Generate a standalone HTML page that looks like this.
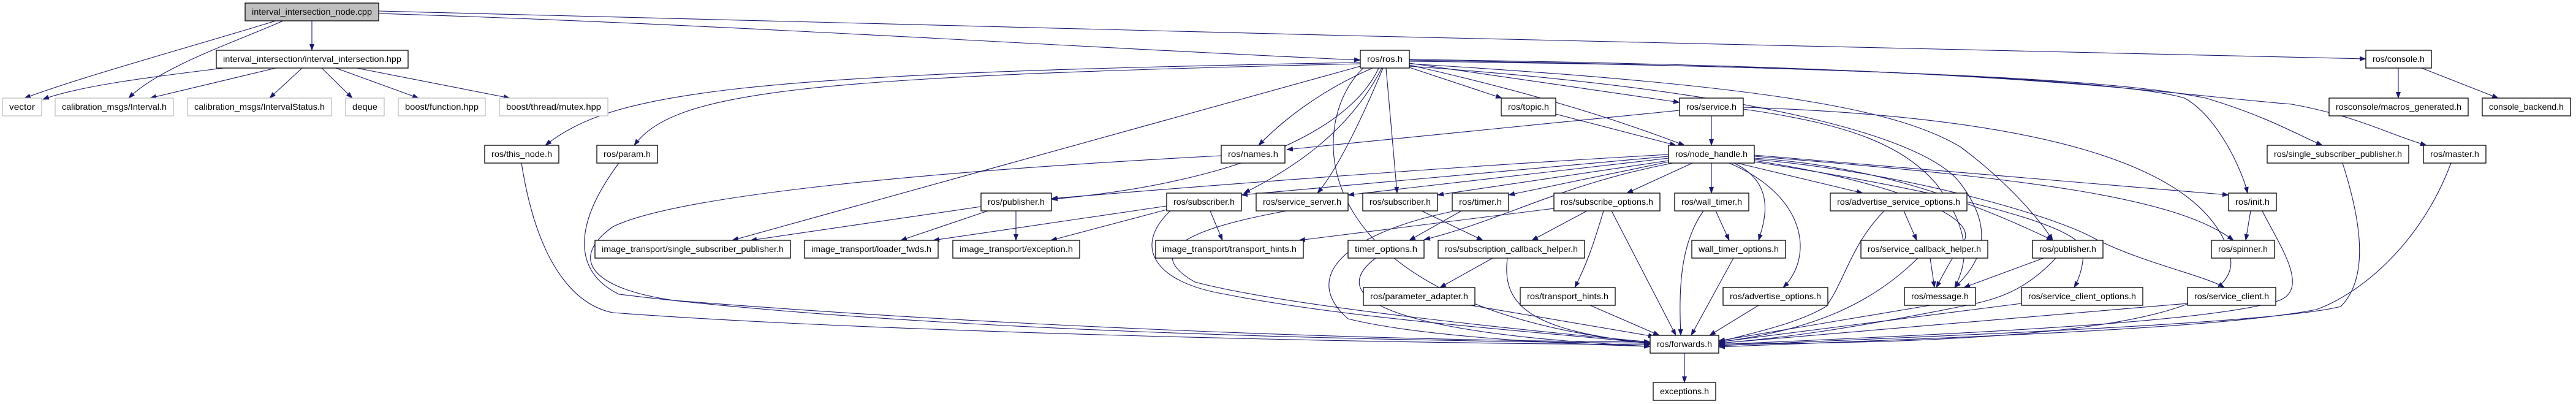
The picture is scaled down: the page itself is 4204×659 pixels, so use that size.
<!DOCTYPE html>
<html><head><meta charset="utf-8"><style>
html,body{margin:0;padding:0;background:#fff;}
svg{display:block;}
text{font-family:"Liberation Sans",sans-serif;font-size:14px;fill:#000;}
.n{fill:#fff;stroke:#000;stroke-width:1.3;}
.g{fill:#fff;stroke:#bfbfbf;stroke-width:1.3;}
.r{fill:#bfbfbf;stroke:#000;stroke-width:1.3;}
.e path{fill:none;stroke:#191970;stroke-width:1.1;marker-end:url(#a);}
</style></head><body>
<svg width="4204" height="659" viewBox="0 0 4204 659" xmlns="http://www.w3.org/2000/svg">
<defs><marker id="a" markerUnits="userSpaceOnUse" markerWidth="11" markerHeight="8" refX="10" refY="4" orient="auto"><path d="M0,0 L11,4 L0,8 z" fill="#191970"/></marker></defs>
<g class="e">
<path d="M509 34 L509 82"/>
<path d="M450 34 C300 80, 150 120, 40 160"/>
<path d="M462 34 C380 70, 260 110, 210 160"/>
<path d="M618 22 C1200 40, 1800 80, 2220 98"/>
<path d="M618 18 C1500 40, 3000 80, 3861 96"/>
<path d="M365 111 C250 125, 130 140, 70 162"/>
<path d="M450 111 L245 160"/>
<path d="M493 111 L440 160"/>
<path d="M525 111 L575 160"/>
<path d="M548 111 L683 160"/>
<path d="M582 111 L832 160"/>
<path d="M3914 111 L3914 160"/>
<path d="M3952 111 L4077 160"/>
<path d="M2300 110 L2451 160"/>
<path d="M2300 103 L2741 167"/>
<path d="M2300 106 C2450 140, 2600 180, 2749 237"/>
<path d="M2220 102 C1200 120, 1000 150, 890 237"/>
<path d="M2220 104 C1300 125, 1100 150, 1035 237"/>
<path d="M2240 111 C2150 150, 2090 200, 2054 237"/>
<path d="M2220 108 L1195 392"/>
<path d="M2250 111 C2200 220, 2000 300, 1716 325"/>
<path d="M2255 111 C2200 220, 2100 280, 2030 315"/>
<path d="M2257 111 C2220 200, 2180 280, 2150 315"/>
<path d="M2262 111 L2280 315"/>
<path d="M2225 111 C2130 200, 2120 500, 2693 560"/>
<path d="M2300 100 C3200 110, 3500 140, 3565 160 C3620 190, 3660 280, 3668 315"/>
<path d="M2300 98 C3300 115, 3500 140, 3600 160 C3700 190, 3750 220, 3790 237"/>
<path d="M2300 97 C3300 110, 3500 150, 3740 170 C3850 190, 3900 220, 3960 237"/>
<path d="M2300 104 C2900 140, 3100 180, 3200 240 C3280 300, 3330 360, 3350 392"/>
<path d="M2300 108 C2900 150, 3150 230, 3200 300 C3260 380, 3230 430, 3190 469"/>
<path d="M2741 180 L2100 244"/>
<path d="M2793 189 L2793 237"/>
<path d="M2845 175 C3300 190, 3600 260, 3640 420 C3660 530, 3300 560, 2805 561"/>
<path d="M2845 178 C3000 200, 3100 230, 3160 300 C3220 380, 3210 430, 3190 469"/>
<path d="M2539 186 L2735 237"/>
<path d="M2723 252 C2400 270, 2000 300, 1716 324"/>
<path d="M2723 255 L2026 318"/>
<path d="M2723 258 L2200 318"/>
<path d="M2723 262 L2346 318"/>
<path d="M2723 264 L2462 318"/>
<path d="M2762 266 L2655 315"/>
<path d="M2793 266 L2793 315"/>
<path d="M2835 266 L3040 315"/>
<path d="M2730 266 C2550 300, 2450 360, 2324 391"/>
<path d="M2830 266 C2900 300, 2880 360, 2870 392"/>
<path d="M2822 266 C2950 320, 2960 420, 2910 469"/>
<path d="M2863 258 C3050 270, 3200 320, 3350 392"/>
<path d="M2863 262 C3050 290, 3250 350, 3200 400 C3180 430, 3170 450, 3160 469"/>
<path d="M2863 264 C3100 300, 3400 360, 3400 410 C3400 440, 3390 460, 3385 469"/>
<path d="M2863 260 C3100 280, 3350 350, 3420 390 C3500 430, 3600 450, 3630 469"/>
<path d="M2863 255 C3300 290, 3550 320, 3645 392"/>
<path d="M2863 253 L3637 318"/>
<path d="M1601 337 L1225 392"/>
<path d="M1612 344 L1470 392"/>
<path d="M1658 344 L1658 392"/>
<path d="M1904 336 L1523 392"/>
<path d="M1904 342 L1715 392"/>
<path d="M1975 344 L1995 392"/>
<path d="M1910 344 C1850 400, 1880 460, 2000 480 C2200 520, 2500 540, 2693 560"/>
<path d="M2100 344 C1900 380, 1880 420, 1950 460 C2100 500, 2500 540, 2693 558"/>
<path d="M2320 344 L2420 392"/>
<path d="M2385 344 L2300 392"/>
<path d="M2370 345 C2200 380, 2120 450, 2200 520 C2300 545, 2500 560, 2693 565"/>
<path d="M2536 340 L2120 392"/>
<path d="M2590 344 L2500 392"/>
<path d="M2617 344 C2600 400, 2590 430, 2570 469"/>
<path d="M2630 344 L2735 547"/>
<path d="M2800 344 L2822 392"/>
<path d="M2780 344 C2740 400, 2740 480, 2743 547"/>
<path d="M3107 344 L3128 392"/>
<path d="M3075 344 C3020 400, 3010 460, 2980 500 C2930 530, 2850 545, 2805 558"/>
<path d="M2245 421 C2180 470, 2200 540, 2693 565"/>
<path d="M2436 421 L2350 469"/>
<path d="M2460 421 C2450 500, 2500 540, 2693 560"/>
<path d="M2829 421 L2760 547"/>
<path d="M3150 421 L3157 469"/>
<path d="M3130 421 C3050 500, 2950 540, 2805 558"/>
<path d="M3335 421 L3205 469"/>
<path d="M3355 421 C3300 480, 3250 490, 3200 500 C3000 540, 2900 552, 2805 560"/>
<path d="M3673 344 L3665 392"/>
<path d="M3692 344 C3720 400, 3770 470, 3720 490 C3600 530, 3100 548, 2805 562"/>
<path d="M3823 266 C3850 350, 3870 450, 3820 500 C3700 530, 3100 550, 2805 564"/>
<path d="M4000 266 C3950 400, 3850 480, 3780 505 C3600 540, 3100 553, 2805 566"/>
<path d="M2400 498 L2700 549"/>
<path d="M2595 498 L2708 547"/>
<path d="M2870 498 L2790 547"/>
<path d="M3150 498 L2805 556"/>
<path d="M3299 495 L2805 558"/>
<path d="M3570 495 L2805 560"/>
<path d="M2749 576 L2749 624"/>
<path d="M851 266 C880 450, 950 500, 1000 510 C1400 540, 2200 560, 2693 562"/>
<path d="M1010 266 C940 360, 930 440, 1010 480 C1500 540, 2200 555, 2693 560"/>
<path d="M1993 254 C1500 280, 1100 320, 1000 370 C930 420, 960 470, 1100 490 C1600 530, 2200 555, 2693 558"/>
</g>
<g>
<rect class="r" x="400" y="5" width="218" height="29"/><text x="509" y="24" text-anchor="middle" textLength="196" lengthAdjust="spacingAndGlyphs">interval_intersection_node.cpp</text>
<rect class="n" x="353" y="82" width="313" height="29"/><text x="509.5" y="101" text-anchor="middle" textLength="291" lengthAdjust="spacingAndGlyphs">interval_intersection/interval_intersection.hpp</text>
<rect class="n" x="2220" y="82" width="80" height="29"/><text x="2260" y="101" text-anchor="middle" textLength="58" lengthAdjust="spacingAndGlyphs">ros/ros.h</text>
<rect class="n" x="3861" y="82" width="107" height="29"/><text x="3914.5" y="101" text-anchor="middle" textLength="85" lengthAdjust="spacingAndGlyphs">ros/console.h</text>

<rect class="g" x="4" y="160" width="64" height="29"/><text x="36" y="179" text-anchor="middle" textLength="42" lengthAdjust="spacingAndGlyphs">vector</text>
<rect class="g" x="90" y="160" width="193" height="29"/><text x="186.5" y="179" text-anchor="middle" textLength="171" lengthAdjust="spacingAndGlyphs">calibration_msgs/Interval.h</text>
<rect class="g" x="306" y="160" width="235" height="29"/><text x="423.5" y="179" text-anchor="middle" textLength="213" lengthAdjust="spacingAndGlyphs">calibration_msgs/IntervalStatus.h</text>
<rect class="g" x="564" y="160" width="63" height="29"/><text x="595.5" y="179" text-anchor="middle" textLength="41" lengthAdjust="spacingAndGlyphs">deque</text>
<rect class="g" x="650" y="160" width="142" height="29"/><text x="721" y="179" text-anchor="middle" textLength="120" lengthAdjust="spacingAndGlyphs">boost/function.hpp</text>
<rect class="g" x="815" y="160" width="177" height="29"/><text x="903.5" y="179" text-anchor="middle" textLength="155" lengthAdjust="spacingAndGlyphs">boost/thread/mutex.hpp</text>
<rect class="n" x="2450" y="160" width="89" height="29"/><text x="2494.5" y="179" text-anchor="middle" textLength="67" lengthAdjust="spacingAndGlyphs">ros/topic.h</text>
<rect class="n" x="2741" y="160" width="104" height="29"/><text x="2793" y="179" text-anchor="middle" textLength="82" lengthAdjust="spacingAndGlyphs">ros/service.h</text>
<rect class="n" x="3801" y="160" width="227" height="29"/><text x="3914.5" y="179" text-anchor="middle" textLength="205" lengthAdjust="spacingAndGlyphs">rosconsole/macros_generated.h</text>
<rect class="n" x="4051" y="160" width="144" height="29"/><text x="4123" y="179" text-anchor="middle" textLength="122" lengthAdjust="spacingAndGlyphs">console_backend.h</text>

<rect class="n" x="791" y="237" width="121" height="29"/><text x="851.5" y="256" text-anchor="middle" textLength="99" lengthAdjust="spacingAndGlyphs">ros/this_node.h</text>
<rect class="n" x="974" y="237" width="99" height="29"/><text x="1023.5" y="256" text-anchor="middle" textLength="77" lengthAdjust="spacingAndGlyphs">ros/param.h</text>
<rect class="n" x="1993" y="237" width="104" height="29"/><text x="2045" y="256" text-anchor="middle" textLength="82" lengthAdjust="spacingAndGlyphs">ros/names.h</text>
<rect class="n" x="2723" y="237" width="140" height="29"/><text x="2793" y="256" text-anchor="middle" textLength="118" lengthAdjust="spacingAndGlyphs">ros/node_handle.h</text>
<rect class="n" x="3700" y="237" width="231" height="29"/><text x="3815.5" y="256" text-anchor="middle" textLength="209" lengthAdjust="spacingAndGlyphs">ros/single_subscriber_publisher.h</text>
<rect class="n" x="3955" y="237" width="102" height="29"/><text x="4006" y="256" text-anchor="middle" textLength="80" lengthAdjust="spacingAndGlyphs">ros/master.h</text>

<rect class="n" x="1601" y="315" width="115" height="29"/><text x="1658.5" y="334" text-anchor="middle" textLength="93" lengthAdjust="spacingAndGlyphs">ros/publisher.h</text>
<rect class="n" x="1904" y="315" width="122" height="29"/><text x="1965" y="334" text-anchor="middle" textLength="100" lengthAdjust="spacingAndGlyphs">ros/subscriber.h</text>
<rect class="n" x="2050" y="315" width="150" height="29"/><text x="2125" y="334" text-anchor="middle" textLength="128" lengthAdjust="spacingAndGlyphs">ros/service_server.h</text>
<rect class="n" x="2224" y="315" width="122" height="29"/><text x="2285" y="334" text-anchor="middle" textLength="100" lengthAdjust="spacingAndGlyphs">ros/subscriber.h</text>
<rect class="n" x="2370" y="315" width="92" height="29"/><text x="2416" y="334" text-anchor="middle" textLength="70" lengthAdjust="spacingAndGlyphs">ros/timer.h</text>
<rect class="n" x="2536" y="315" width="173" height="29"/><text x="2622.5" y="334" text-anchor="middle" textLength="151" lengthAdjust="spacingAndGlyphs">ros/subscribe_options.h</text>
<rect class="n" x="2733" y="315" width="121" height="29"/><text x="2793.5" y="334" text-anchor="middle" textLength="99" lengthAdjust="spacingAndGlyphs">ros/wall_timer.h</text>
<rect class="n" x="2987" y="315" width="223" height="29"/><text x="3098.5" y="334" text-anchor="middle" textLength="201" lengthAdjust="spacingAndGlyphs">ros/advertise_service_options.h</text>
<rect class="n" x="3637" y="315" width="78" height="29"/><text x="3676" y="334" text-anchor="middle" textLength="56" lengthAdjust="spacingAndGlyphs">ros/init.h</text>

<rect class="n" x="971" y="392" width="319" height="29"/><text x="1130.5" y="411" text-anchor="middle" textLength="297" lengthAdjust="spacingAndGlyphs">image_transport/single_subscriber_publisher.h</text>
<rect class="n" x="1313" y="392" width="218" height="29"/><text x="1422" y="411" text-anchor="middle" textLength="196" lengthAdjust="spacingAndGlyphs">image_transport/loader_fwds.h</text>
<rect class="n" x="1555" y="392" width="207" height="29"/><text x="1658.5" y="411" text-anchor="middle" textLength="185" lengthAdjust="spacingAndGlyphs">image_transport/exception.h</text>
<rect class="n" x="1886" y="392" width="241" height="29"/><text x="2006.5" y="411" text-anchor="middle" textLength="219" lengthAdjust="spacingAndGlyphs">image_transport/transport_hints.h</text>
<rect class="n" x="2200" y="392" width="124" height="29"/><text x="2262" y="411" text-anchor="middle" textLength="102" lengthAdjust="spacingAndGlyphs">timer_options.h</text>
<rect class="n" x="2347" y="392" width="239" height="29"/><text x="2466.5" y="411" text-anchor="middle" textLength="217" lengthAdjust="spacingAndGlyphs">ros/subscription_callback_helper.h</text>
<rect class="n" x="2761" y="392" width="153" height="29"/><text x="2837.5" y="411" text-anchor="middle" textLength="131" lengthAdjust="spacingAndGlyphs">wall_timer_options.h</text>
<rect class="n" x="3037" y="392" width="207" height="29"/><text x="3140.5" y="411" text-anchor="middle" textLength="185" lengthAdjust="spacingAndGlyphs">ros/service_callback_helper.h</text>
<rect class="n" x="3317" y="392" width="115" height="29"/><text x="3374.5" y="411" text-anchor="middle" textLength="93" lengthAdjust="spacingAndGlyphs">ros/publisher.h</text>
<rect class="n" x="3609" y="392" width="103" height="29"/><text x="3660.5" y="411" text-anchor="middle" textLength="81" lengthAdjust="spacingAndGlyphs">ros/spinner.h</text>

<rect class="n" x="2225" y="469" width="182" height="29"/><text x="2316" y="488" text-anchor="middle" textLength="160" lengthAdjust="spacingAndGlyphs">ros/parameter_adapter.h</text>
<rect class="n" x="2481" y="469" width="155" height="29"/><text x="2558.5" y="488" text-anchor="middle" textLength="133" lengthAdjust="spacingAndGlyphs">ros/transport_hints.h</text>
<rect class="n" x="2812" y="469" width="171" height="29"/><text x="2897.5" y="488" text-anchor="middle" textLength="149" lengthAdjust="spacingAndGlyphs">ros/advertise_options.h</text>
<rect class="n" x="3108" y="469" width="116" height="29"/><text x="3166" y="488" text-anchor="middle" textLength="94" lengthAdjust="spacingAndGlyphs">ros/message.h</text>
<rect class="n" x="3299" y="469" width="198" height="29"/><text x="3398" y="488" text-anchor="middle" textLength="176" lengthAdjust="spacingAndGlyphs">ros/service_client_options.h</text>
<rect class="n" x="3570" y="469" width="144" height="29"/><text x="3642" y="488" text-anchor="middle" textLength="122" lengthAdjust="spacingAndGlyphs">ros/service_client.h</text>

<rect class="n" x="2693" y="547" width="112" height="29"/><text x="2749" y="566" text-anchor="middle" textLength="90" lengthAdjust="spacingAndGlyphs">ros/forwards.h</text>
<rect class="n" x="2698" y="624" width="102" height="29"/><text x="2749" y="643" text-anchor="middle" textLength="80" lengthAdjust="spacingAndGlyphs">exceptions.h</text>
</g>
</svg>
</body></html>
